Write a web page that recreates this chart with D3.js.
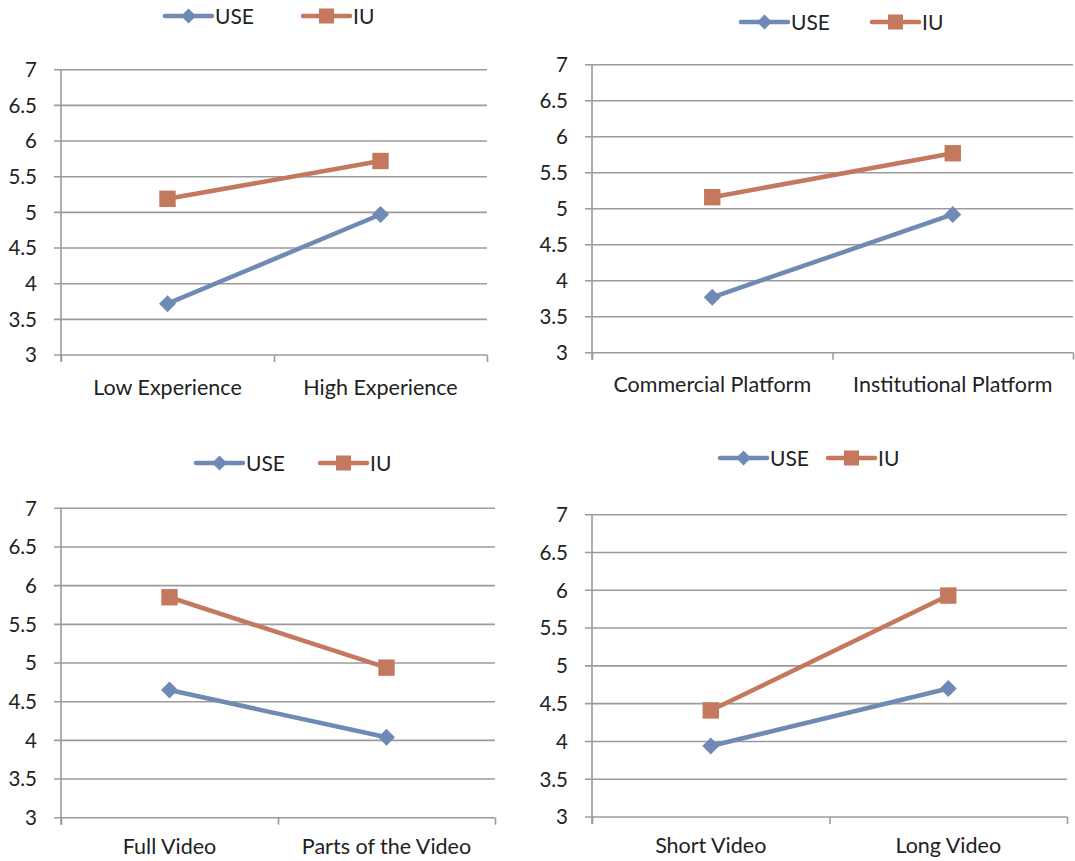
<!DOCTYPE html>
<html><head><meta charset="utf-8">
<script src="https://cdn.jsdelivr.net/npm/d3@7"></script>
<style>body{margin:0;background:#fff}svg{display:block}</style>
</head><body>
<svg id="c" width="1075" height="861"></svg>
<script>
// ---- data ----
const seriesNames = ["USE", "IU"];
const yTicks = [3, 3.5, 4, 4.5, 5, 5.5, 6, 6.5, 7];
const cats1 = ["Low Experience", "High Experience"];
const use1 = [3.72, 4.97];
const iu1 = [5.19, 5.72];
const cats2 = ["Commercial Platform", "Institutional Platform"];
const use2 = [3.77, 4.92];
const iu2 = [5.16, 5.77];
const cats3 = ["Full Video", "Parts of the Video"];
const use3 = [4.65, 4.04];
const iu3 = [5.85, 4.94];
const cats4 = ["Short Video", "Long Video"];
const use4 = [3.94, 4.70];
const iu4 = [4.41, 5.93];

// ---- layout ----
const panels = [
  {cats: cats1, use: use1, iu: iu1, x0: 61, x1: 487, yTop: 69.7, yBot: 355, labelY: 395, leg: {y: 16, use: 165, iu: 303}},
  {cats: cats2, use: use2, iu: iu2, x0: 592, x1: 1073, yTop: 64.7, yBot: 352.7, labelY: 391.5, leg: {y: 22, use: 741, iu: 872}},
  {cats: cats3, use: use3, iu: iu3, x0: 61, x1: 495, yTop: 508.3, yBot: 817.7, labelY: 854, leg: {y: 463, use: 196, iu: 320}},
  {cats: cats4, use: use4, iu: iu4, x0: 592, x1: 1067, yTop: 514.7, yBot: 817, labelY: 853, leg: {y: 458, use: 720, iu: 828}}
];
const colors = {USE: "#6f8ab5", IU: "#c4795f"};
const gridColor = "#9b9b9b";
const textColor = "#222";
const font = "Lato, 'Open Sans', sans-serif";
const tickFont = 20.5, catFont = 21.5, legFont = 21;

const svg = d3.select("#c");

function marker(g, name, x, y, big) {
  if (name === "USE") {
    const s = big ? 8.5 : 7.5;
    g.append("path")
      .attr("d", `M${x},${y - s}L${x + s},${y}L${x},${y + s}L${x - s},${y}Z`)
      .attr("fill", colors.USE);
  } else {
    const s = big ? 8.2 : 7.5;
    g.append("rect").attr("x", x - s).attr("y", y - s).attr("width", 2 * s).attr("height", 2 * s)
      .attr("fill", colors.IU);
  }
}

panels.forEach(p => {
  const g = svg.append("g");
  const y = d3.scaleLinear().domain([3, 7]).range([p.yBot, p.yTop]);
  const xp = d3.scalePoint().domain(p.cats).range([p.x0, p.x1]).padding(0.5);
  const xb = d3.scaleLinear().domain([0, p.cats.length]).range([p.x0, p.x1]);

  // gridlines + y labels
  yTicks.forEach(t => {
    g.append("line").attr("x1", p.x0 - 7).attr("x2", p.x1)
      .attr("y1", y(t)).attr("y2", y(t))
      .attr("stroke", gridColor).attr("stroke-width", 1.6);
    g.append("text").attr("x", p.x0 - 24).attr("y", y(t)).attr("dy", "0.36em")
      .attr("text-anchor", "end").attr("font-family", font).attr("font-size", tickFont)
      .attr("fill", textColor).text(t);
  });
  g.append("line").attr("x1", p.x0).attr("x2", p.x0).attr("y1", p.yTop).attr("y2", p.yBot + 7)
    .attr("stroke", gridColor).attr("stroke-width", 1.6);

  // x axis ticks at band boundaries
  const xa = g.append("g").attr("transform", `translate(0,${p.yBot})`)
    .call(d3.axisBottom(xb).tickValues(d3.range(p.cats.length + 1)).tickSize(7).tickFormat(""));
  xa.select(".domain").remove();
  xa.selectAll(".tick line").attr("stroke", gridColor).attr("stroke-width", 1.6);

  // category labels
  p.cats.forEach(c => {
    g.append("text").attr("x", xp(c)).attr("y", p.labelY).attr("text-anchor", "middle")
      .attr("font-family", font).attr("font-size", catFont).attr("fill", textColor).text(c);
  });

  // series
  const line = d3.line().x((d, i) => xp(p.cats[i])).y(d => y(d));
  [["USE", p.use], ["IU", p.iu]].forEach(([name, vals]) => {
    g.append("path").attr("d", line(vals)).attr("fill", "none")
      .attr("stroke", colors[name]).attr("stroke-width", 4.5).attr("stroke-linejoin", "round").attr("stroke-linecap", "round");
    vals.forEach((v, i) => marker(g, name, xp(p.cats[i]), y(v), true));
  });

  // legend
  seriesNames.forEach(name => {
    const lx = p.leg[name === "USE" ? "use" : "iu"];
    g.append("line").attr("x1", lx).attr("x2", lx + 47).attr("y1", p.leg.y).attr("y2", p.leg.y)
      .attr("stroke", colors[name]).attr("stroke-width", 4.5).attr("stroke-linecap", "round");
    marker(g, name, lx + 23.5, p.leg.y, false);
    g.append("text").attr("x", lx + 50).attr("y", p.leg.y).attr("dy", "0.36em")
      .attr("font-family", font).attr("font-size", legFont).attr("fill", textColor).text(name);
  });
});
</script>
</body></html>
